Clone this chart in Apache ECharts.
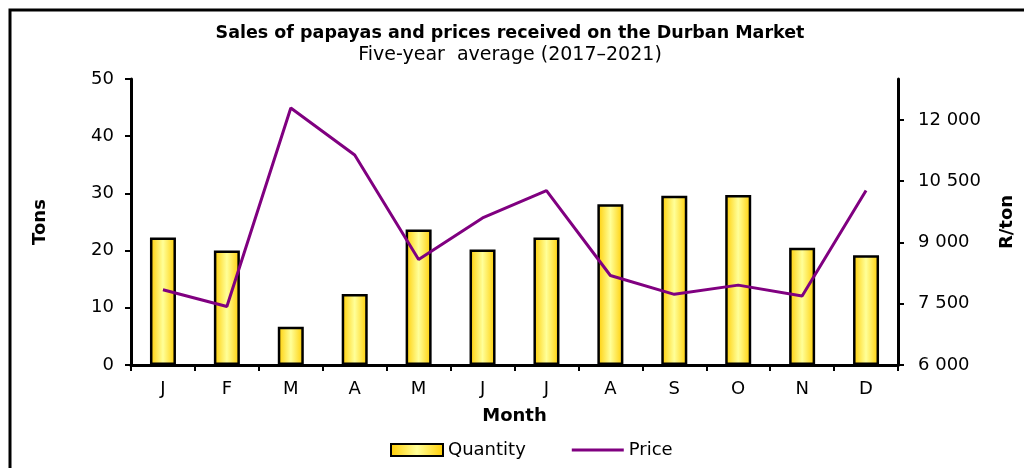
<!DOCTYPE html>
<html>
<head>
<meta charset="utf-8">
<script src="https://cdn.jsdelivr.net/npm/echarts@6/dist/echarts.min.js"></script>
<style>
  html, body { margin: 0; padding: 0; background: #fff; }
  #main { width: 1024px; height: 468px; }
</style>
</head>
<body>
<div id="main"></div>
<script>
// data
const months = ['J', 'F', 'M', 'A', 'M', 'J', 'J', 'A', 'S', 'O', 'N', 'D']
const quantity = [22.3, 20.0, 6.7, 12.4, 23.7, 20.2, 22.3, 28.1, 29.6, 29.7, 20.5, 19.2]
const price = [7840, 7430, 12290, 11140, 8580, 9600, 10270, 8190, 7730, 7955, 7690, 10270]

// the reference text is a bit wide for Arial, DejaVu gets closer
const font = 'DejaVu Sans, Liberation Sans, sans-serif'

// gold edges, pale yellow middle
const barFill = new echarts.graphic.LinearGradient(0, 0, 1, 0, [
  { offset: 0, color: '#ffcc00' },
  { offset: 0.5, color: '#ffff99' },
  { offset: 1, color: '#ffcc00' }
])

var myChart = echarts.init(document.getElementById('main'))
myChart.setOption({
  animation: false,
  textStyle: { fontFamily: font, color: '#000' },
  title: {
    text: 'Sales of papayas and prices received on the Durban Market',
    subtext: 'Five-year  average (2017\u20132021)',
    left: 505,
    textAlign: 'center',
    top: 19,
    itemGap: 4,
    textStyle: { fontSize: 17.5, fontWeight: 'bold', color: '#000', fontFamily: font },
    subtextStyle: { fontSize: 19, color: '#000', fontFamily: font }
  },
  legend: {
    bottom: 4,
    left: 385,
    itemGap: 46,
    itemWidth: 52,
    itemHeight: 12,
    textStyle: { fontSize: 18, color: '#000', fontFamily: font },
    data: [
      { name: 'Quantity', icon: 'rect' },
      { name: 'Price', icon: 'path://M0,0 L52,0 L52,3 L0,3 Z' }
    ]
  },
  graphic: [{
    type: 'rect',
    shape: { x: 10, y: 10, width: 1040, height: 500 },
    style: { fill: 'none', stroke: '#000', lineWidth: 3 },
    silent: true
  }],
  grid: { left: 131, right: 125, top: 79, bottom: 103, containLabel: false },
  xAxis: {
    type: 'category',
    data: months,
    name: 'Month',
    nameLocation: 'middle',
    nameGap: 42,
    nameTextStyle: { fontSize: 18, fontWeight: 'bold', color: '#000' },
    axisLine: { lineStyle: { color: '#000', width: 3 } },
    axisTick: { show: true, length: 6, lineStyle: { color: '#000', width: 2 } },
    axisLabel: { fontSize: 18, color: '#000', margin: 15 }
  },
  yAxis: [{
    type: 'value',
    min: 0,
    max: 50,
    interval: 10,
    name: 'Tons',
    nameLocation: 'middle',
    nameGap: 82,
    nameRotate: 90,
    nameTextStyle: { fontSize: 18, fontWeight: 'bold', color: '#000' },
    axisLine: { show: true, lineStyle: { color: '#000', width: 3 } },
    axisTick: { show: true, length: 6, lineStyle: { color: '#000', width: 2 } },
    axisLabel: { fontSize: 18, color: '#000', margin: 17 },
    splitLine: { show: false }
  }, {
    type: 'value',
    min: 6000,
    max: 13000,
    interval: 1500,
    name: 'R/ton',
    nameLocation: 'middle',
    nameGap: 100,
    nameRotate: 90,
    nameTextStyle: { fontSize: 18, fontWeight: 'bold', color: '#000' },
    axisLine: { show: true, lineStyle: { color: '#000', width: 3 } },
    axisTick: { show: true, length: 6, lineStyle: { color: '#000', width: 2 } },
    axisLabel: {
      fontSize: 18, color: '#000', margin: 20, showMaxLabel: false,
      formatter: v => String(v).replace(/\B(?=(\d{3})+(?!\d))/g, ' ')
    },
    splitLine: { show: false }
  }],
  series: [{
    name: 'Quantity',
    type: 'bar',
    yAxisIndex: 0,
    barWidth: 26,
    data: quantity,
    itemStyle: { color: barFill, borderColor: '#000', borderWidth: 2.5 }
  }, {
    name: 'Price',
    type: 'line',
    yAxisIndex: 1,
    data: price,
    symbol: 'none',
    lineStyle: { color: '#800080', width: 3 },
    itemStyle: { color: '#800080' }
  }]
})
</script>
</body>
</html>
